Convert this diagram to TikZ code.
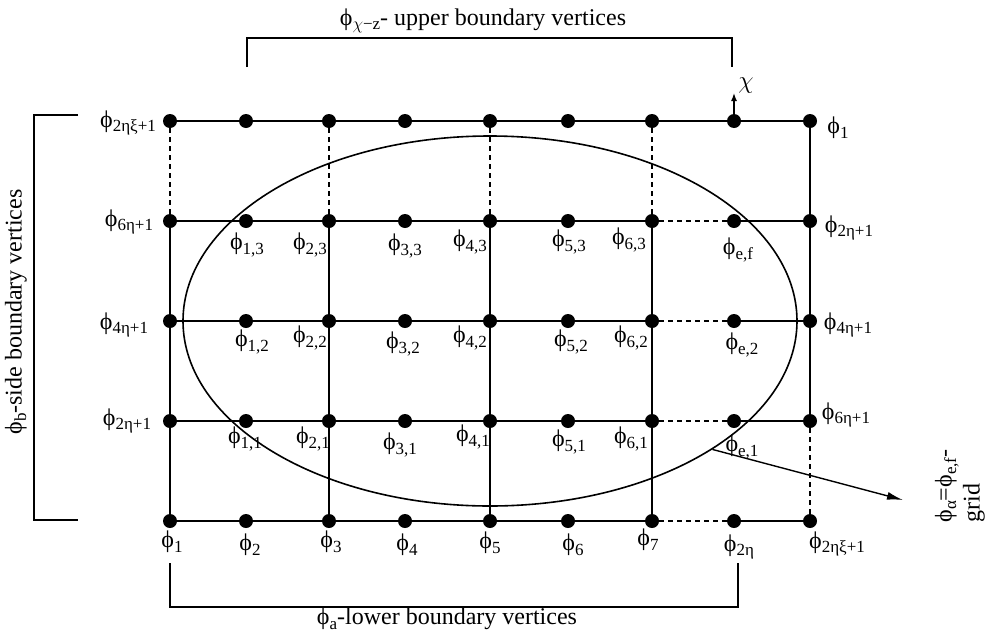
\documentclass[tikz,border=0pt]{standalone}
\usepackage{fontspec}
\setmainfont{Liberation Serif}
\usetikzlibrary{arrows.meta,positioning,shapes.geometric}

\newcommand\phisub[1]{ϕ\raisebox{-4.5pt}{\fontsize{17}{17}\selectfont #1}}

\begin{document}
\begin{tikzpicture}[
  x=1pt, y=-1pt,
  font=\fontsize{24}{28}\selectfont,
  dot/.style={circle, fill, inner sep=0pt, minimum size=14pt},
  edge/.style={line width=1.8pt},
  gap/.style={line width=1.4pt, dash pattern=on 5pt off 4pt},
  bracket/.style={line width=1.4pt},
  lbl/.style={inner sep=1pt},
  pointer/.style={-{Latex[length=16pt,width=8pt]}, line width=1.4pt}
]
\useasboundingbox (0,0) rectangle (988,635);

% region boundary
\node[draw, ellipse, line width=1.6pt, minimum width=614pt, minimum height=370pt, inner sep=0pt] (domain) at (490,321) {};

% vertices: column i from the left, row j from the bottom
\foreach \x [count=\i] in {170,246,329,405,490,568,652,734,810}
  \foreach \y [count=\j from 0] in {521,421,321,221,121}
    \node[dot] (p-\i-\j) at (\x,\y) {};

% horizontal lines
\draw[edge] (p-1-4) -- (p-2-4) -- (p-3-4) -- (p-4-4) -- (p-5-4) -- (p-6-4) -- (p-7-4) -- (p-8-4) -- (p-9-4);
\foreach \j in {0,1,2,3} {
  \draw[edge] (p-1-\j) -- (p-2-\j) -- (p-3-\j) -- (p-4-\j) -- (p-5-\j) -- (p-6-\j) -- (p-7-\j);
  \draw[gap] (p-7-\j) -- (p-8-\j);
  \draw[edge] (p-8-\j) -- (p-9-\j);
}

% vertical lines
\foreach \i in {1,3,5,7} {
  \draw[gap] (p-\i-4) -- (p-\i-3);
  \draw[edge] (p-\i-3) -- (p-\i-2) -- (p-\i-1) -- (p-\i-0);
}
\draw[edge] (p-9-4) -- (p-9-3) -- (p-9-2) -- (p-9-1);
\draw[gap] (p-9-1) -- (p-9-0);

% direction chi
\coordinate (chitip) at (734,93);
\draw[-{Latex[length=8pt,width=6pt]}, line width=1.4pt] (p-8-4) -- (chitip);
\node[lbl] (chi) at (746,86) {$\chi$};

% left and right labels
\node[lbl] (l-1-4) at (128,123) {\phisub{2ηξ+1}};
\node[lbl] (l-1-3) at (129,222) {\phisub{6η+1}};
\node[lbl] (l-1-2) at (124,325) {\phisub{4η+1}};
\node[lbl] (l-1-1) at (127,421) {\phisub{2η+1}};
\node[lbl] (l-9-4) at (838,128) {\phisub{1}};
\node[lbl] (l-9-3) at (849,228) {\phisub{2η+1}};
\node[lbl] (l-9-2) at (848,325) {\phisub{4η+1}};
\node[lbl] (l-9-1) at (846,415) {\phisub{6η+1}};

% inner labels
\node[lbl] (l-2-3) at (247,245) {\phisub{1,3}};
\node[lbl] (l-3-3) at (310,245) {\phisub{2,3}};
\node[lbl] (l-4-3) at (405,246) {\phisub{3,3}};
\node[lbl] (l-5-3) at (470,242) {\phisub{4,3}};
\node[lbl] (l-6-3) at (569,242) {\phisub{5,3}};
\node[lbl] (l-7-3) at (629,240) {\phisub{6,3}};
\node[lbl] (l-8-3) at (738,250) {\phisub{e,f}};
\node[lbl] (l-2-2) at (252,342) {\phisub{1,2}};
\node[lbl] (l-3-2) at (310,338) {\phisub{2,2}};
\node[lbl] (l-4-2) at (403,344) {\phisub{3,2}};
\node[lbl] (l-5-2) at (470,338) {\phisub{4,2}};
\node[lbl] (l-6-2) at (571,342) {\phisub{5,2}};
\node[lbl] (l-7-2) at (631,338) {\phisub{6,2}};
\node[lbl] (l-8-2) at (742,345) {\phisub{e,2}};
\node[lbl] (l-2-1) at (245,439) {\phisub{1,1}};
\node[lbl] (l-3-1) at (313,439) {\phisub{2,1}};
\node[lbl] (l-4-1) at (400,445) {\phisub{3,1}};
\node[lbl] (l-5-1) at (473,437) {\phisub{4,1}};
\node[lbl] (l-6-1) at (569,442) {\phisub{5,1}};
\node[lbl] (l-7-1) at (631,439) {\phisub{6,1}};
\node[lbl] (l-8-1) at (742,447) {\phisub{e,1}};

% bottom labels
\node[lbl] (l-1-0) at (172,542) {\phisub{1}};
\node[lbl] (l-2-0) at (250,545) {\phisub{2}};
\node[lbl] (l-3-0) at (331,542) {\phisub{3}};
\node[lbl] (l-4-0) at (407,545) {\phisub{4}};
\node[lbl] (l-5-0) at (490,543) {\phisub{5}};
\node[lbl] (l-6-0) at (573,545) {\phisub{6}};
\node[lbl] (l-7-0) at (648,540) {\phisub{7}};
\node[lbl] (l-8-0) at (739,547) {\phisub{2η}};
\node[lbl] (l-9-0) at (837,544) {\phisub{2ηξ+1}};

% brackets
\draw[bracket] (247,67) |- (732,38) -- (732,67);
\draw[bracket] (78,115) -| (34,520) -- (78,520);
\draw[bracket] (170,563) |- (738,607) -- (738,563);
\node (upper) at (483,21) {\phisub{$\chi$−z}- upper boundary vertices};
\node[rotate=90] (side) at (16,312) {\phisub{b}-side boundary vertices};
\node (lower) at (447,619) {\phisub{a}-lower boundary vertices};

% grid pointer
\coordinate (gridtip) at (903,500);
\draw[pointer] (domain.-30) -- (gridtip);
\node[rotate=90, align=left, inner sep=0pt] (gridlbl) at (960,486) {\phisub{α}=\phisub{e,f}-\\grid};
\end{tikzpicture}
\end{document}
